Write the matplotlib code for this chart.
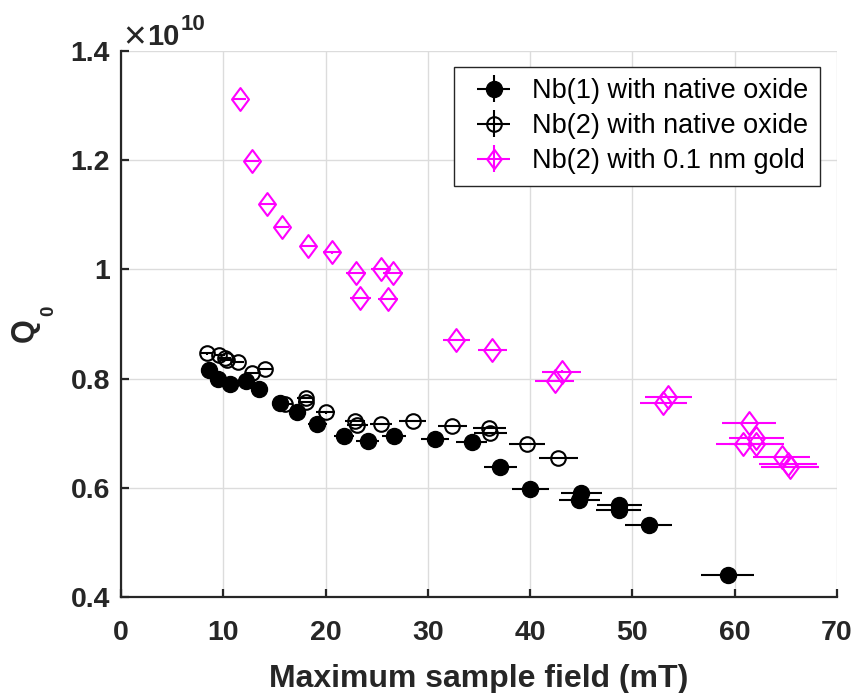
import matplotlib
matplotlib.use("Agg")
import matplotlib.pyplot as plt
from matplotlib.path import Path
from matplotlib.legend_handler import HandlerErrorbar
import numpy as np

plt.rcParams['font.family'] = ['Liberation Sans', 'DejaVu Sans']

# Nb(1) with native oxide (filled circles)
nb1_x = [8.6, 9.5, 10.7, 12.2, 13.5, 15.5, 17.2, 19.2, 21.8, 24.1, 26.7, 30.7, 34.3, 37.1, 40.0, 45.0, 44.8, 48.7, 48.65, 51.6, 59.3]
nb1_y = [0.816, 0.800, 0.791, 0.796, 0.781, 0.756, 0.738, 0.716, 0.694, 0.686, 0.694, 0.689, 0.683, 0.638, 0.597, 0.590, 0.578, 0.568, 0.559, 0.531, 0.440]
nb1_xerr = [0.4, 0.4, 0.5, 0.5, 0.6, 0.7, 0.8, 0.9, 1.0, 1.1, 1.2, 1.4, 1.5, 1.65, 1.8, 2.0, 2.0, 2.2, 2.2, 2.3, 2.6]
nb1_yerr = [0.002] * 21

# Nb(2) with native oxide (open circles)
nb2_x = [8.4, 9.6, 10.2, 10.4, 11.4, 12.8, 14.1, 16.0, 18.05, 18.1, 20.0, 22.9, 23.1, 25.4, 28.5, 32.4, 36.0, 36.1, 39.7, 42.75]
nb2_y = [0.846, 0.843, 0.838, 0.834, 0.830, 0.811, 0.818, 0.754, 0.765, 0.757, 0.738, 0.723, 0.715, 0.717, 0.723, 0.713, 0.709, 0.701, 0.680, 0.654]
nb2_xerr = [0.55, 0.55, 0.6, 0.6, 0.6, 0.65, 0.7, 0.75, 0.8, 0.8, 0.9, 1.0, 1.0, 1.1, 1.3, 1.4, 1.6, 1.6, 1.8, 1.9]
nb2_yerr = [0.002] * 20

# Nb(2) with 0.1 nm gold (magenta diamonds)
au_x = [11.6, 12.8, 14.3, 15.7, 18.3, 20.6, 23.0, 23.4, 25.4, 26.6, 26.1, 32.8, 36.3, 43.1, 42.4, 53.5, 53.0, 61.4, 62.1, 62.1, 60.8, 64.6, 65.2, 65.4]
au_y = [1.312, 1.199, 1.120, 1.078, 1.043, 1.031, 0.994, 0.947, 1.001, 0.994, 0.946, 0.871, 0.852, 0.813, 0.796, 0.767, 0.755, 0.718, 0.691, 0.680, 0.680, 0.657, 0.644, 0.638]
au_xerr = [0.65, 0.73, 0.8, 0.77, 0.8, 0.85, 1.0, 1.0, 1.0, 1.0, 1.0, 1.3, 1.4, 1.9, 1.9, 2.3, 2.3, 2.65, 2.7, 2.7, 2.65, 2.8, 2.8, 2.8]
au_yerr = [0.002] * 24

xticks = [0, 10, 20, 30, 40, 50, 60, 70]
yticks = [0.4, 0.6, 0.8, 1.0, 1.2, 1.4]
ytick_labels = ['0.4', '0.6', '0.8', '1', '1.2', '1.4']

W, H = 855, 693
fig = plt.figure(figsize=(W / 100, H / 100), dpi=100)
ax = fig.add_axes([121 / W, 1 - 597 / H, 716 / W, 546 / H])

diamond = Path([(0, 1), (0.74, 0), (0, -1), (-0.74, 0), (0, 1)],
               [Path.MOVETO, Path.LINETO, Path.LINETO, Path.LINETO, Path.CLOSEPOLY])

dark = '#262626'
ax.errorbar(nb1_x, nb1_y, xerr=nb1_xerr, yerr=nb1_yerr, fmt='o', color='black',
            mfc='black', mec='black', ms=11.5, mew=1.0, elinewidth=1.5, capsize=0,
            label='Nb(1) with native oxide', zorder=3)
ax.errorbar(nb2_x, nb2_y, xerr=nb2_xerr, yerr=nb2_yerr, fmt='o', color='black',
            mfc='none', mec='black', ms=10.5, mew=1.5, elinewidth=1.5, capsize=0,
            label='Nb(2) with native oxide', zorder=3)
ax.errorbar(au_x, au_y, xerr=au_xerr, yerr=au_yerr, fmt='none', ecolor='#FF00FF',
            elinewidth=1.5, capsize=0, zorder=3)
ax.plot(au_x, au_y, linestyle='none', marker=diamond, ms=16.5, mfc='none',
        mec='#FF00FF', mew=1.5, zorder=3)
# legend proxy for gold series
h_au = ax.errorbar([np.nan], [np.nan], xerr=[0.1], yerr=[0.1], fmt='o', color='#FF00FF',
                   marker=diamond, ms=14, mfc='none', mec='#FF00FF', mew=1.5,
                   elinewidth=1.5, capsize=0, label='Nb(2) with 0.1 nm gold')

ax.set_xlim(0, 70)
ax.set_ylim(0.4, 1.4)
ax.set_xticks(xticks)
ax.set_yticks(yticks)
ax.set_yticklabels(ytick_labels)
ax.grid(True, color='#dcdcdc', linewidth=1.0)
ax.set_axisbelow(True)
for s in ['top', 'right']:
    ax.spines[s].set_visible(False)
for s in ['left', 'bottom']:
    ax.spines[s].set_linewidth(1.6)
    ax.spines[s].set_color(dark)
ax.tick_params(direction='in', length=6, width=1.6, colors=dark, labelsize=20.5)
ax.tick_params(axis='x', pad=16.5)
ax.tick_params(axis='y', pad=8)
for lab in ax.get_xticklabels() + ax.get_yticklabels():
    lab.set_fontweight('bold')
    lab.set_color(dark)

ax.set_xlabel('Maximum sample field (mT)', fontsize=23, fontweight='bold', color=dark, labelpad=13)

# y label: Q with subscript 0 (rotated)
fig.text(24.5 / W, 1 - 330 / H, 'Q', rotation=90, fontsize=22, fontweight='bold',
         color=dark, ha='center', va='center')
fig.text(48.5 / W, 1 - 311 / H, '0', rotation=90, fontsize=13.5, fontweight='bold',
         color=dark, ha='center', va='center')

# exponent label
fig.text(123 / W, 1 - 48 / H, '×', fontsize=28, color=dark, ha='left', va='baseline')
fig.text(147 / W, 1 - 45 / H, '10', fontsize=21, fontweight='bold', color=dark, ha='left', va='baseline')
fig.text(181 / W, 1 - 30 / H, '10', fontsize=16, fontweight='bold', color=dark, ha='left', va='baseline')

fs = 19.5
hmap = {}
for h in ax.get_legend_handles_labels()[0]:
    hmap[h] = HandlerErrorbar(xerr_size=0.6, yerr_size=0.5, xpad=0.71)
leg = ax.legend(loc='upper right', bbox_to_anchor=(1 - 17 / 716, 1 - 16 / 546),
                borderaxespad=0, fontsize=fs, frameon=True, fancybox=False,
                edgecolor=dark, framealpha=1, borderpad=0.42,
                handlelength=1.4, handletextpad=1.09, labelspacing=0.33,
                handler_map=hmap)
leg.get_frame().set_linewidth(1.0)

fig.savefig('out.png', dpi=100)
